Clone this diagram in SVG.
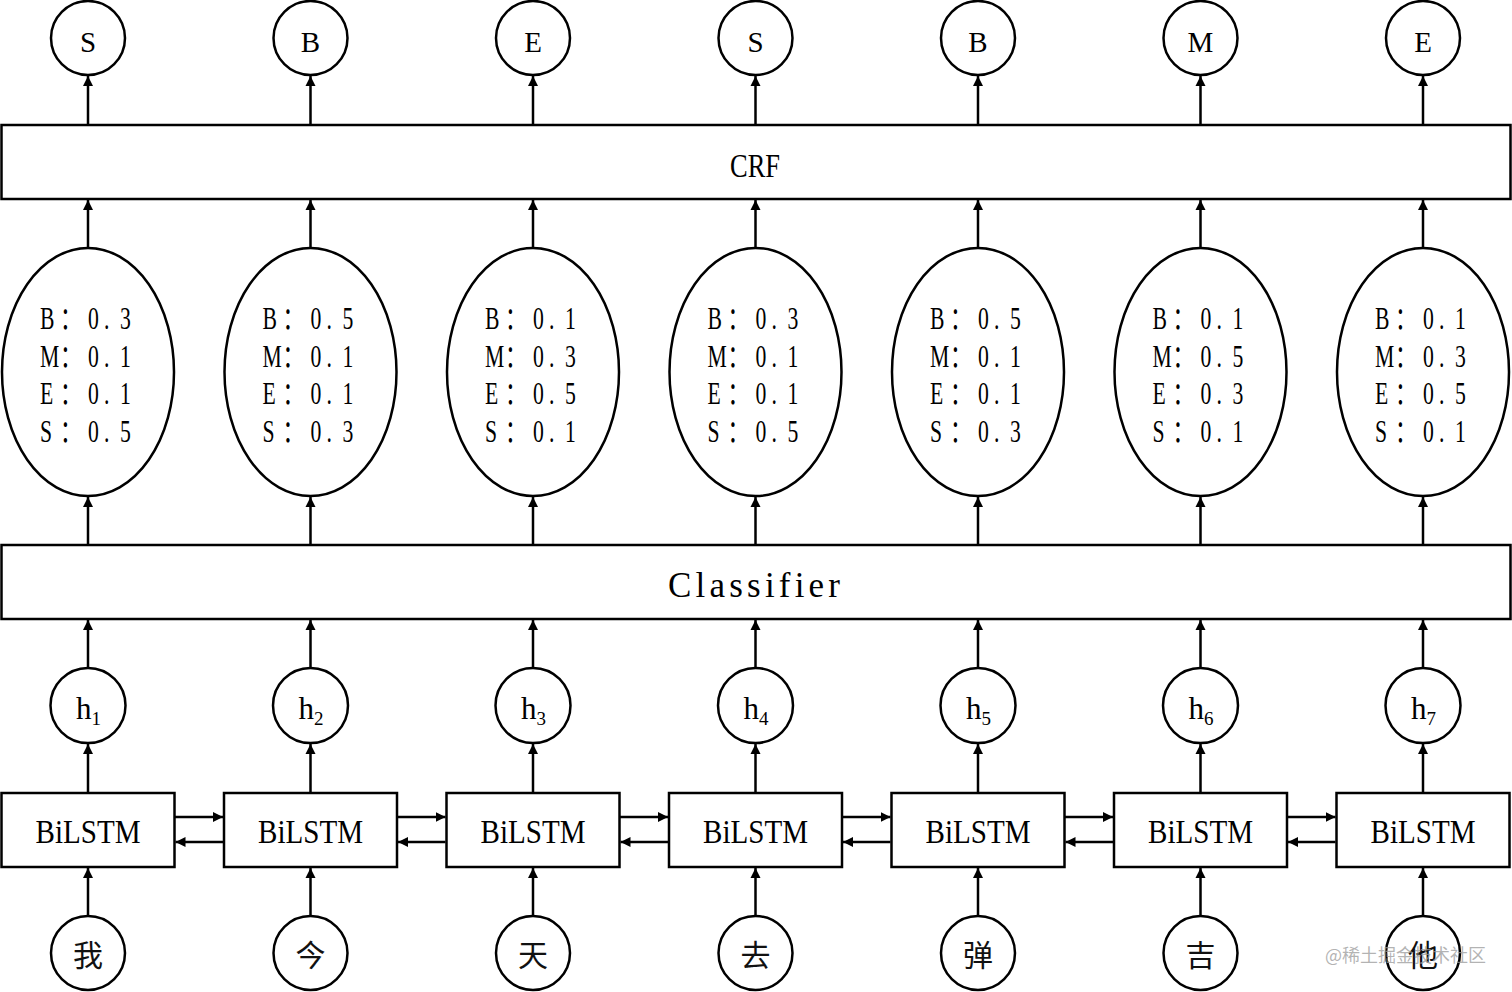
<svg xmlns="http://www.w3.org/2000/svg" width="1512" height="992" viewBox="0 0 1512 992">
<style>
.bx{fill:#fff;stroke:#000;stroke-width:2.5}
.t{font-family:"Liberation Serif","Noto Sans CJK SC",serif;fill:#000}
.c{text-anchor:middle}
.a line{stroke:#000;stroke-width:2.5;marker-end:url(#ah)}
.p{font-size:31px}
.cn{font-family:"Noto Sans CJK SC","Noto Sans CJK JP",sans-serif;font-size:30px;text-anchor:middle;fill:#111}
.wm{font-family:"Noto Sans CJK SC",sans-serif;font-size:18px;fill:#9a9a9a;fill-opacity:0.75}
</style>
<defs>
<marker id="ah" markerUnits="userSpaceOnUse" markerWidth="10" markerHeight="11" refX="10" refY="5.5" orient="auto">
<path d="M0,0.5 L10,5.5 L0,10.5 z" fill="#000"/>
</marker>
</defs>
<rect width="1512" height="992" fill="#fff"/>

<g id="connectors" class="a">
<line x1="88" y1="916" x2="88" y2="868"/><line x1="310.5" y1="916" x2="310.5" y2="868"/><line x1="533" y1="916" x2="533" y2="868"/><line x1="755.5" y1="916" x2="755.5" y2="868"/><line x1="978" y1="916" x2="978" y2="868"/><line x1="1200.5" y1="916" x2="1200.5" y2="868"/><line x1="1423" y1="916" x2="1423" y2="868"/>
<line x1="88" y1="793" x2="88" y2="744"/><line x1="310.5" y1="793" x2="310.5" y2="744"/><line x1="533" y1="793" x2="533" y2="744"/><line x1="755.5" y1="793" x2="755.5" y2="744"/><line x1="978" y1="793" x2="978" y2="744"/><line x1="1200.5" y1="793" x2="1200.5" y2="744"/><line x1="1423" y1="793" x2="1423" y2="744"/>
<line x1="88" y1="668" x2="88" y2="620"/><line x1="310.5" y1="668" x2="310.5" y2="620"/><line x1="533" y1="668" x2="533" y2="620"/><line x1="755.5" y1="668" x2="755.5" y2="620"/><line x1="978" y1="668" x2="978" y2="620"/><line x1="1200.5" y1="668" x2="1200.5" y2="620"/><line x1="1423" y1="668" x2="1423" y2="620"/>
<line x1="88" y1="545" x2="88" y2="497"/><line x1="310.5" y1="545" x2="310.5" y2="497"/><line x1="533" y1="545" x2="533" y2="497"/><line x1="755.5" y1="545" x2="755.5" y2="497"/><line x1="978" y1="545" x2="978" y2="497"/><line x1="1200.5" y1="545" x2="1200.5" y2="497"/><line x1="1423" y1="545" x2="1423" y2="497"/>
<line x1="88" y1="248" x2="88" y2="200"/><line x1="310.5" y1="248" x2="310.5" y2="200"/><line x1="533" y1="248" x2="533" y2="200"/><line x1="755.5" y1="248" x2="755.5" y2="200"/><line x1="978" y1="248" x2="978" y2="200"/><line x1="1200.5" y1="248" x2="1200.5" y2="200"/><line x1="1423" y1="248" x2="1423" y2="200"/>
<line x1="88" y1="125" x2="88" y2="76"/><line x1="310.5" y1="125" x2="310.5" y2="76"/><line x1="533" y1="125" x2="533" y2="76"/><line x1="755.5" y1="125" x2="755.5" y2="76"/><line x1="978" y1="125" x2="978" y2="76"/><line x1="1200.5" y1="125" x2="1200.5" y2="76"/><line x1="1423" y1="125" x2="1423" y2="76"/>
<line x1="174.5" y1="817" x2="223" y2="817"/><line x1="397" y1="817" x2="445.5" y2="817"/><line x1="619.5" y1="817" x2="668" y2="817"/><line x1="842" y1="817" x2="890.5" y2="817"/><line x1="1064.5" y1="817" x2="1113" y2="817"/><line x1="1287" y1="817" x2="1335.5" y2="817"/>
<line x1="223" y1="842" x2="175.5" y2="842"/><line x1="445.5" y1="842" x2="398" y2="842"/><line x1="668" y1="842" x2="620.5" y2="842"/><line x1="890.5" y1="842" x2="843" y2="842"/><line x1="1113" y1="842" x2="1065.5" y2="842"/><line x1="1335.5" y1="842" x2="1288" y2="842"/>
</g>

<g id="crf"><rect class="bx" x="1.5" y="125" width="1509" height="74"/>
<text class="t c" x="755" y="177" font-size="34" textLength="50" lengthAdjust="spacingAndGlyphs">CRF</text></g>
<g id="classifier"><rect class="bx" x="1.5" y="545" width="1509" height="74"/>
<text class="t c" x="754" y="597" font-size="35" textLength="172" lengthAdjust="spacing">Classifier</text></g>

<g id="tag1"><circle class="bx" cx="88" cy="38" r="37"/><text class="t c" x="88" y="52" font-size="29">S</text></g>
<g id="tag2"><circle class="bx" cx="310.5" cy="38" r="37"/><text class="t c" x="310.5" y="52" font-size="29">B</text></g>
<g id="tag3"><circle class="bx" cx="533" cy="38" r="37"/><text class="t c" x="533" y="52" font-size="29">E</text></g>
<g id="tag4"><circle class="bx" cx="755.5" cy="38" r="37"/><text class="t c" x="755.5" y="52" font-size="29">S</text></g>
<g id="tag5"><circle class="bx" cx="978" cy="38" r="37"/><text class="t c" x="978" y="52" font-size="29">B</text></g>
<g id="tag6"><circle class="bx" cx="1200.5" cy="38" r="37"/><text class="t c" x="1200.5" y="52" font-size="29">M</text></g>
<g id="tag7"><circle class="bx" cx="1423" cy="38" r="37"/><text class="t c" x="1423" y="52" font-size="29">E</text></g>

<g id="prob1"><ellipse class="bx" cx="88" cy="372" rx="86" ry="124"/>
<g class="t p" transform="translate(88,0) scale(0.7,1)">
<text x="-68.6 -40 0 22.9 45.7" y="329">B：0.3</text>
<text x="-68.6 -40 0 22.9 45.7" y="367">M：0.1</text>
<text x="-68.6 -40 0 22.9 45.7" y="404">E：0.1</text>
<text x="-68.6 -40 0 22.9 45.7" y="442">S：0.5</text></g></g>
<g id="prob2"><ellipse class="bx" cx="310.5" cy="372" rx="86" ry="124"/>
<g class="t p" transform="translate(310.5,0) scale(0.7,1)">
<text x="-68.6 -40 0 22.9 45.7" y="329">B：0.5</text>
<text x="-68.6 -40 0 22.9 45.7" y="367">M：0.1</text>
<text x="-68.6 -40 0 22.9 45.7" y="404">E：0.1</text>
<text x="-68.6 -40 0 22.9 45.7" y="442">S：0.3</text></g></g>
<g id="prob3"><ellipse class="bx" cx="533" cy="372" rx="86" ry="124"/>
<g class="t p" transform="translate(533,0) scale(0.7,1)">
<text x="-68.6 -40 0 22.9 45.7" y="329">B：0.1</text>
<text x="-68.6 -40 0 22.9 45.7" y="367">M：0.3</text>
<text x="-68.6 -40 0 22.9 45.7" y="404">E：0.5</text>
<text x="-68.6 -40 0 22.9 45.7" y="442">S：0.1</text></g></g>
<g id="prob4"><ellipse class="bx" cx="755.5" cy="372" rx="86" ry="124"/>
<g class="t p" transform="translate(755.5,0) scale(0.7,1)">
<text x="-68.6 -40 0 22.9 45.7" y="329">B：0.3</text>
<text x="-68.6 -40 0 22.9 45.7" y="367">M：0.1</text>
<text x="-68.6 -40 0 22.9 45.7" y="404">E：0.1</text>
<text x="-68.6 -40 0 22.9 45.7" y="442">S：0.5</text></g></g>
<g id="prob5"><ellipse class="bx" cx="978" cy="372" rx="86" ry="124"/>
<g class="t p" transform="translate(978,0) scale(0.7,1)">
<text x="-68.6 -40 0 22.9 45.7" y="329">B：0.5</text>
<text x="-68.6 -40 0 22.9 45.7" y="367">M：0.1</text>
<text x="-68.6 -40 0 22.9 45.7" y="404">E：0.1</text>
<text x="-68.6 -40 0 22.9 45.7" y="442">S：0.3</text></g></g>
<g id="prob6"><ellipse class="bx" cx="1200.5" cy="372" rx="86" ry="124"/>
<g class="t p" transform="translate(1200.5,0) scale(0.7,1)">
<text x="-68.6 -40 0 22.9 45.7" y="329">B：0.1</text>
<text x="-68.6 -40 0 22.9 45.7" y="367">M：0.5</text>
<text x="-68.6 -40 0 22.9 45.7" y="404">E：0.3</text>
<text x="-68.6 -40 0 22.9 45.7" y="442">S：0.1</text></g></g>
<g id="prob7"><ellipse class="bx" cx="1423" cy="372" rx="86" ry="124"/>
<g class="t p" transform="translate(1423,0) scale(0.7,1)">
<text x="-68.6 -40 0 22.9 45.7" y="329">B：0.1</text>
<text x="-68.6 -40 0 22.9 45.7" y="367">M：0.3</text>
<text x="-68.6 -40 0 22.9 45.7" y="404">E：0.5</text>
<text x="-68.6 -40 0 22.9 45.7" y="442">S：0.1</text></g></g>

<g id="h1"><circle class="bx" cx="88" cy="705.5" r="37.5"/><text class="t" x="76" y="719" font-size="31">h<tspan font-size="19" dy="6">1</tspan></text></g>
<g id="h2"><circle class="bx" cx="310.5" cy="705.5" r="37.5"/><text class="t" x="298.5" y="719" font-size="31">h<tspan font-size="19" dy="6">2</tspan></text></g>
<g id="h3"><circle class="bx" cx="533" cy="705.5" r="37.5"/><text class="t" x="521" y="719" font-size="31">h<tspan font-size="19" dy="6">3</tspan></text></g>
<g id="h4"><circle class="bx" cx="755.5" cy="705.5" r="37.5"/><text class="t" x="743.5" y="719" font-size="31">h<tspan font-size="19" dy="6">4</tspan></text></g>
<g id="h5"><circle class="bx" cx="978" cy="705.5" r="37.5"/><text class="t" x="966" y="719" font-size="31">h<tspan font-size="19" dy="6">5</tspan></text></g>
<g id="h6"><circle class="bx" cx="1200.5" cy="705.5" r="37.5"/><text class="t" x="1188.5" y="719" font-size="31">h<tspan font-size="19" dy="6">6</tspan></text></g>
<g id="h7"><circle class="bx" cx="1423" cy="705.5" r="37.5"/><text class="t" x="1411" y="719" font-size="31">h<tspan font-size="19" dy="6">7</tspan></text></g>

<g id="lstm1"><rect class="bx" x="1.5" y="793" width="173" height="74"/><text class="t c" x="88" y="843" font-size="33" textLength="105" lengthAdjust="spacingAndGlyphs">BiLSTM</text></g>
<g id="lstm2"><rect class="bx" x="224" y="793" width="173" height="74"/><text class="t c" x="310.5" y="843" font-size="33" textLength="105" lengthAdjust="spacingAndGlyphs">BiLSTM</text></g>
<g id="lstm3"><rect class="bx" x="446.5" y="793" width="173" height="74"/><text class="t c" x="533" y="843" font-size="33" textLength="105" lengthAdjust="spacingAndGlyphs">BiLSTM</text></g>
<g id="lstm4"><rect class="bx" x="669" y="793" width="173" height="74"/><text class="t c" x="755.5" y="843" font-size="33" textLength="105" lengthAdjust="spacingAndGlyphs">BiLSTM</text></g>
<g id="lstm5"><rect class="bx" x="891.5" y="793" width="173" height="74"/><text class="t c" x="978" y="843" font-size="33" textLength="105" lengthAdjust="spacingAndGlyphs">BiLSTM</text></g>
<g id="lstm6"><rect class="bx" x="1114" y="793" width="173" height="74"/><text class="t c" x="1200.5" y="843" font-size="33" textLength="105" lengthAdjust="spacingAndGlyphs">BiLSTM</text></g>
<g id="lstm7"><rect class="bx" x="1336.5" y="793" width="173" height="74"/><text class="t c" x="1423" y="843" font-size="33" textLength="105" lengthAdjust="spacingAndGlyphs">BiLSTM</text></g>

<g id="w1"><circle class="bx" cx="88" cy="953" r="37"/><text class="cn" x="88" y="966">我</text></g>
<g id="w2"><circle class="bx" cx="310.5" cy="953" r="37"/><text class="cn" x="310.5" y="966">今</text></g>
<g id="w3"><circle class="bx" cx="533" cy="953" r="37"/><text class="cn" x="533" y="966">天</text></g>
<g id="w4"><circle class="bx" cx="755.5" cy="953" r="37"/><text class="cn" x="755.5" y="966">去</text></g>
<g id="w5"><circle class="bx" cx="978" cy="953" r="37"/><text class="cn" x="978" y="966">弹</text></g>
<g id="w6"><circle class="bx" cx="1200.5" cy="953" r="37"/><text class="cn" x="1200.5" y="966">吉</text></g>
<g id="w7"><circle class="bx" cx="1423" cy="953" r="37"/><text class="cn" x="1423" y="966">他</text></g>

<text class="wm" x="1325" y="962">@稀土掘金技术社区</text>
</svg>
